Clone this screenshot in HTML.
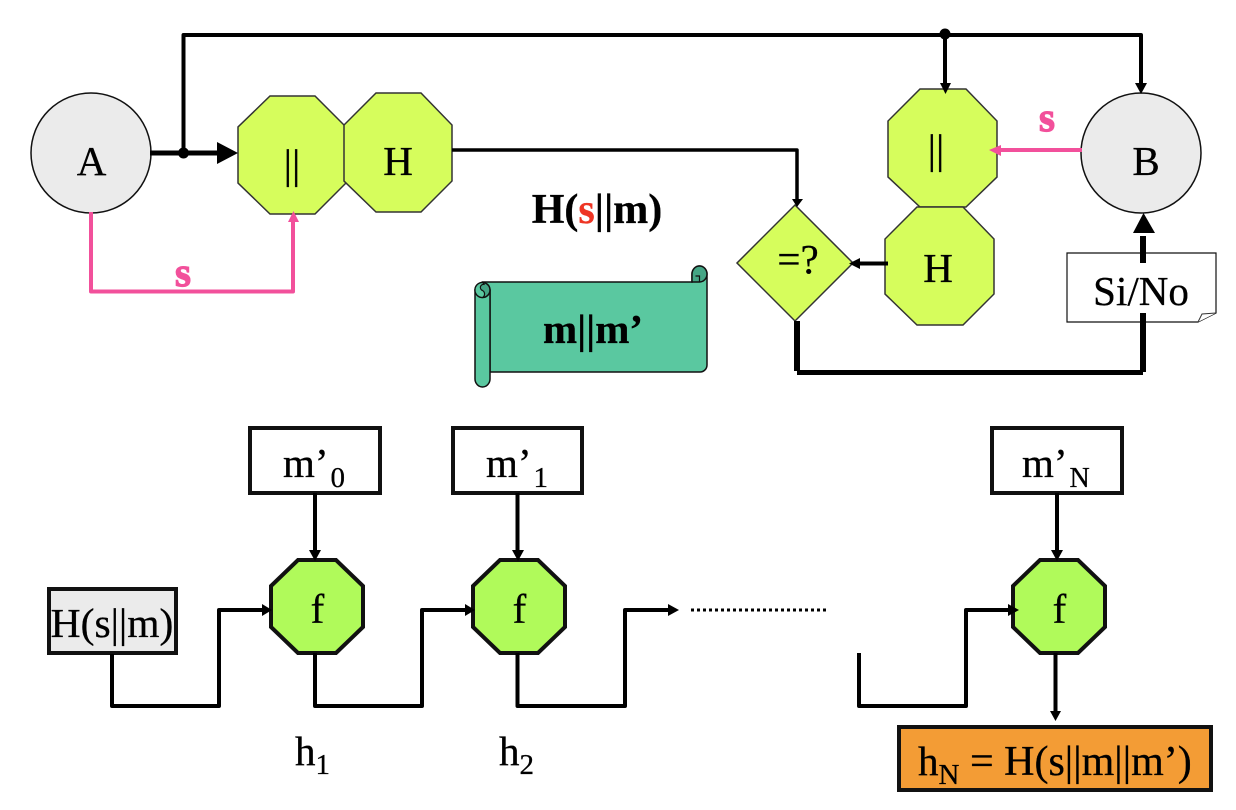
<!DOCTYPE html>
<html><head><meta charset="utf-8"><style>
html,body{margin:0;padding:0;background:#fff}
svg{display:block}
text{font-family:"Liberation Serif",serif;font-size:41px;fill:#000;stroke:#000;stroke-width:.3}
.b{font-weight:bold}
.c{text-anchor:middle}
.l{fill:none;stroke:#000;stroke-linejoin:round}
.y{fill:#d6fd5c;stroke:#333;stroke-width:1.5}
.g{fill:#b0fa5a;stroke:#111;stroke-width:4}
.r{fill:#fff;stroke:#111;stroke-width:4}
.k{fill:#000}
.p{fill:#f2509b}
.ps{fill:#f2509b;stroke:#f2509b;stroke-width:1.2}
.sc{stroke:#111;stroke-width:1.5}
</style></head><body>
<svg width="1236" height="810" viewBox="0 0 1236 810" xmlns="http://www.w3.org/2000/svg">
<circle cx="91" cy="153" r="60" fill="#ebebeb" stroke="#111" stroke-width="1.5"/>
<circle cx="1141" cy="153" r="60" fill="#ebebeb" stroke="#111" stroke-width="1.5"/>
<polygon class="y" points="270,96 315,96 346,127 346,183 315,214 270,214 238,183 238,127"/>
<polygon class="y" points="376,93 421,93 452,125 452,181 421,212 376,212 344,181 344,125"/>
<polygon class="y" points="920,89 966,89 997,121 997,177 966,207 920,207 888,177 888,121"/>
<polygon class="y" points="917,207 963,207 994,239 994,294 963,325 917,325 885,294 885,239"/>
<polygon class="y" points="795,205 853,263 795,321 737,263"/>
<path class="l" stroke-width="4" d="M183.5 153V35H1141V84M945 35V84"/>
<path class="l" stroke-width="5" d="M150 153H220"/>
<circle class="k" cx="183.5" cy="153" r="5.5"/>
<circle class="k" cx="945" cy="34" r="5.5"/>
<polygon class="k" points="217,142 238,153 217,164"/>
<polygon class="k" points="940,83 951,83 945.5,94"/>
<polygon class="k" points="1135,83 1147,83 1141,94"/>
<path class="l" stroke-width="3.5" d="M452 150H797V200"/>
<polygon class="k" points="792,199 803,199 797,207"/>
<path class="l" stroke-width="4" d="M888 263.5H856"/>
<polygon class="k" points="860,258 860,269 849,263.5"/>
<path fill="none" stroke="#f2509b" stroke-width="4" stroke-linejoin="round" d="M91 212V291.500H293V220"/>
<polygon class="p" points="288,222 299,222 293.500,211"/>
<path fill="none" stroke="#f2509b" stroke-width="4" d="M1082 150H998"/>
<polygon class="p" points="1001,145 1001,156 989,150"/>
<path class="l" stroke-width="6" d="M797 321V371"/>
<path class="l" stroke-width="5" d="M797 372.500H1143"/>
<path fill="#fff" stroke="#111" stroke-width="1.2" d="M1067 253H1216V313L1198 322H1067Z"/>
<path fill="#fff" stroke="#333" stroke-width="1" d="M1198 322L1202 314L1216 313"/>
<path class="l" stroke-width="6" d="M1143 236V263M1143 313V372"/>
<polygon class="k" points="1133,233 1155,233 1143.500,213"/>
<path class="sc" fill="#5ac8a0" d="M483 282H692V274a7.500 8 0 0 1 15 0V365a7 7 0 0 1-7 7H490V290Z"/>
<path class="sc" fill="#45a585" d="M692 282V274a7.500 8 0 0 1 15 0a7.500 8 0 0 1-7.500 8Z"/>
<path fill="none" stroke="#111" stroke-width="1.2" d="M699.500 282v-6h-4"/>
<path class="sc" fill="#5ac8a0" d="M475 290V379a7.500 8 0 0 0 15 0V290Z"/>
<circle class="sc" fill="#45a585" cx="482.500" cy="290" r="7.500"/>
<path fill="#5ac8a0" stroke="#111" stroke-width="1.2" d="M482.500 282.500a7.500 7.500 0 0 0-7.500 7.500a7.500 7.500 0 0 0 7.500 7.500a4 4 0 0 0 0-7a3 3 0 0 1 2-6Z"/>
<rect class="r" x="250" y="428" width="130" height="65"/>
<rect class="r" x="453" y="428" width="129" height="65"/>
<rect class="r" x="992" y="428" width="130" height="65"/>
<rect x="49" y="589" width="127" height="64" fill="#ebebeb" stroke="#111" stroke-width="4"/>
<rect x="899" y="727" width="312" height="63" fill="#f39c35" stroke="#111" stroke-width="4"/>
<polygon class="g" points="298,560 336,560 363,586 363,627 336,653 298,653 271,627 271,586"/>
<polygon class="g" points="500,560 538,560 565,586 565,627 538,653 500,653 473,627 473,586"/>
<polygon class="g" points="1040,560 1078,560 1105,586 1105,627 1078,653 1040,653 1013,627 1013,586"/>
<path class="l" stroke-width="4" d="M315 493V552M517.500 493V552M1057 493V552"/>
<polygon class="k" points="309,550 321,550 315,561"/>
<polygon class="k" points="512,550 524,550 518,561"/>
<polygon class="k" points="1051,550 1063,550 1057,561"/>
<path class="l" stroke-width="4" d="M112 654V706H219V610H264"/>
<path class="l" stroke-width="4" d="M315 653V706H422V610H466"/>
<path class="l" stroke-width="4" d="M517.500 653V706H625V610H670"/>
<path class="l" stroke-width="4" d="M859 653V706H966V610H1010"/>
<path class="l" stroke-width="4" d="M1055.500 653V713"/>
<polygon class="k" points="262,604 262,616 272,610"/>
<polygon class="k" points="465,604 465,616 475,610"/>
<polygon class="k" points="668,604 668,616 679,610"/>
<polygon class="k" points="1008,604 1008,616 1019,610"/>
<polygon class="k" points="1050,711 1061,711 1055.500,721"/>
<path d="M691 610H826" fill="none" stroke="#000" stroke-width="3" stroke-dasharray="3 3"/>
<text class="c" x="91.500" y="175">A</text>
<text class="c" x="1146" y="175">B</text>
<text class="c" x="292" y="178">||</text>
<text class="c" x="398" y="175">H</text>
<text class="c" x="936" y="163">||</text>
<text class="c" x="938" y="282">H</text>
<text class="c" x="798" y="273">=?</text>
<text class="c b ps" x="183" y="286">s</text>
<text class="c b ps" x="1047" y="131">s</text>
<text class="c b" x="597" y="223" style="font-size:42px">H(<tspan style="fill:#ee3524;stroke:#ee3524">s</tspan>||m)</text>
<text class="c b" x="593" y="343">m||m’</text>
<text class="c" x="1141" y="305">Si/No</text>
<text class="c" x="112" y="637" style="font-size:41.500px">H(s||m)</text>
<text x="283" y="477">m’<tspan dx="2" dy="10" style="font-size:29px">0</tspan></text>
<text x="486" y="477">m’<tspan dx="2" dy="10" style="font-size:29px">1</tspan></text>
<text x="1022" y="477">m’<tspan dx="2" dy="10" style="font-size:28px">N</tspan></text>
<text class="c" x="317.500" y="623">f</text>
<text class="c" x="519.500" y="623">f</text>
<text class="c" x="1059.500" y="623">f</text>
<text x="295" y="765">h<tspan dy="9" style="font-size:29px">1</tspan></text>
<text x="499" y="765">h<tspan dy="9" style="font-size:29px">2</tspan></text>
<text x="918" y="775">h<tspan dy="9" style="font-size:29px">N</tspan><tspan dy="-9" style="font-size:42px"> = H(s||m||m’)</tspan></text>
</svg>
</body></html>
